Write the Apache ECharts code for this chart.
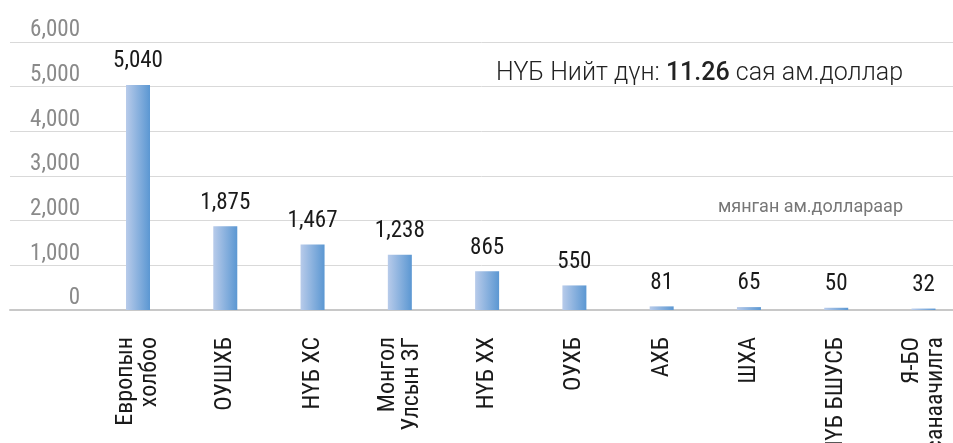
<!DOCTYPE html>
<html>
<head>
<meta charset="utf-8">
<script src="https://cdn.jsdelivr.net/npm/echarts@6/dist/echarts.min.js"></script>
<style>
  html, body { margin: 0; padding: 0; background: #fff; }
  #chart { width: 953px; height: 443px; }
</style>
</head>
<body>
<div id="chart"></div>
<script>
// categories (line breaks as in the source chart)
const categories = [
  'Европын\nхолбоо',
  'ОУШХБ',
  'НҮБ ХС',
  'Монгол\nУлсын ЗГ',
  'НҮБ ХХ',
  'ОУХБ',
  'АХБ',
  'ШХА',
  'НҮБ БШУСБ',
  'Я-БО\nсанаачилга',
]

// мянган ам.доллар
const values = [5040, 1875, 1467, 1238, 865, 550, 81, 65, 50, 32]

// value axis ticks
const yMin = 0
const yMax = 6000
const yStep = 1000

const titleTotal = '11.26'

const narrow = '"Roboto Condensed", "Liberation Sans Narrow", "DejaVu Sans Condensed", sans-serif'

const chart = echarts.init(document.getElementById('chart'))

const option = {
  animation: false,
  backgroundColor: '#fff',
  title: [
    {
      text: '{a|НҮБ Нийт дүн: }{b|' + titleTotal + '}{a| сая ам.доллар}',
      right: 45,
      top: 56,
      textStyle: {
        rich: {
          a: { fontFamily: 'Roboto', fontWeight: 300, fontSize: 25, color: '#222' },
          b: { fontFamily: 'Roboto', fontWeight: 500, fontSize: 25, color: '#222' },
        },
      },
    },
    {
      text: 'мянган ам.доллараар',
      right: 45,
      top: 193,
      textStyle: { fontFamily: 'Roboto', fontWeight: 400, fontSize: 18, color: '#777' },
    },
  ],
  grid: [
    // background grid with the value labels, full width
    { left: 10, right: 0, top: 42, bottom: 133, outerBoundsMode: 'none' },
    // bars: first and last category sit on the grid edges
    { left: 138, right: 29.5, top: 42, bottom: 133, outerBoundsMode: 'none' },
  ],
  xAxis: [
    {
      gridIndex: 0,
      type: 'value',
      min: 0,
      max: 1,
      axisLine: { show: true, onZero: false, lineStyle: { color: '#c8c8c8', width: 2 } },
      axisTick: { show: false },
      axisLabel: { show: false },
      splitLine: { show: false },
    },
    {
      gridIndex: 1,
      type: 'category',
      data: categories,
      boundaryGap: false,
      axisLine: { show: false },
      axisTick: { show: false },
      splitLine: { show: false },
      axisLabel: {
        rotate: 90,
        margin: 27,
        interval: 0,
        fontFamily: narrow,
        fontSize: 24,
        lineHeight: 24,
        color: '#1a1a1a',
      },
    },
  ],
  yAxis: [
    {
      gridIndex: 0,
      type: 'value',
      min: yMin,
      max: yMax,
      interval: yStep,
      axisLine: { show: false },
      axisTick: { show: false },
      splitLine: { lineStyle: { color: '#d9d9d9', width: 1 } },
      axisLabel: {
        inside: true,
        margin: 70,
        align: 'right',
        verticalAlign: 'bottom',
        fontFamily: narrow,
        fontSize: 23,
        color: '#8a8a8a',
        formatter: v => v.toLocaleString('en-US'),
      },
    },
    {
      gridIndex: 1,
      type: 'value',
      min: yMin,
      max: yMax,
      interval: yStep,
      show: false,
    },
  ],
  series: [
    {
      type: 'bar',
      xAxisIndex: 1,
      yAxisIndex: 1,
      data: values,
      barWidth: 24,
      itemStyle: {
        color: new echarts.graphic.LinearGradient(0, 0, 1, 0, [
          { offset: 0, color: '#b8cbea' },
          { offset: 1, color: '#5b97d2' },
        ]),
      },
      label: {
        show: true,
        position: 'top',
        distance: 12,
        fontFamily: narrow,
        fontSize: 23,
        color: '#1a1a1a',
        formatter: p => p.value.toLocaleString('en-US'),
      },
    },
  ],
}

chart.setOption(option)
</script>
</body>
</html>
